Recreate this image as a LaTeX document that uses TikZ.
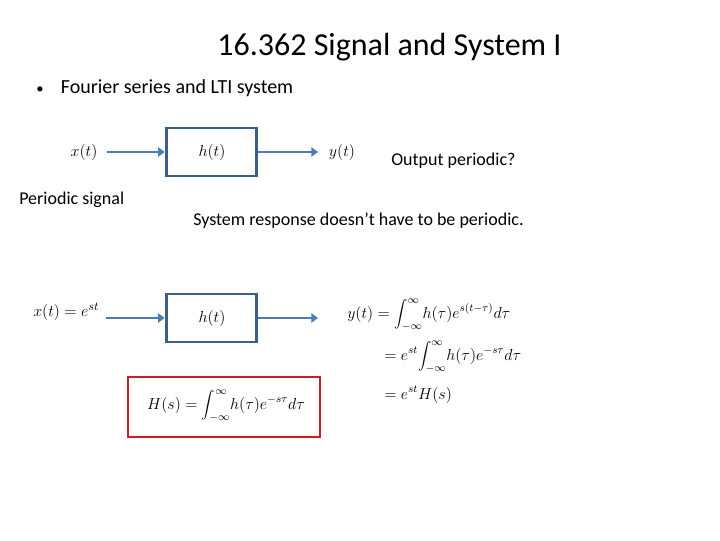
\documentclass[tikz,border=0pt]{standalone}
\usepackage{fontspec}
\setmainfont{Carlito}
\usetikzlibrary{arrows.meta}
\definecolor{arrblue}{RGB}{74,126,187}
\definecolor{boxblue}{RGB}{60,95,135}
\definecolor{redbox}{RGB}{204,30,35}
\tikzset{
  flow/.style={arrblue,line width=2.2pt,-{Triangle[length=5pt,width=7pt]}},
  sysbox/.style={draw=boxblue,line width=2.2pt,minimum width=68pt,minimum height=36pt,inner sep=0pt},
  mathlbl/.style={font=\fontsize{12.5}{15}\selectfont,inner sep=0pt},
  eqn/.style={font=\fontsize{12}{15}\selectfont,inner sep=0pt},
  txt/.style={font=\fontsize{13.5}{16}\selectfont,inner sep=0pt}
}
\begin{document}
\begin{tikzpicture}[x=0.75pt,y=-0.75pt]
\useasboundingbox (0,0) rectangle (720,540);
\node[font=\fontsize{24}{28}\selectfont,inner sep=0pt] (title) at (389.5,47) {16.362 Signal and System I};
\node[font=\fontsize{15}{18}\selectfont,inner sep=0pt,anchor=west] (bul) at (36,88) {{\fontsize{11}{12}\selectfont•}\hspace{13pt}Fourier series and LTI system};
% top diagram
\node[mathlbl] (x1) at (84,152) {$x(t)$};
\node[sysbox] (h1) at (211.5,152) {};
\node[mathlbl] (h1l) at (212,152) {$h(t)$};
\node[mathlbl] (y1) at (342,152) {$y(t)$};
\coordinate (a1s) at (107,152);
\coordinate (a1e) at (318,152);
\draw[flow] (a1s) -- (h1.west);
\draw[flow] (h1.east) -- (a1e);
\node[txt,anchor=west] (outp) at (391,161) {Output periodic?};
\node[txt,anchor=west] (pers) at (19,200) {Periodic signal};
\node[txt,anchor=west] (resp) at (193,221) {System response doesn’t have to be periodic.};
% bottom diagram
\node[mathlbl,anchor=west] (x2) at (33,312) {$x(t)=e^{st}$};
\node[sysbox] (h2) at (211.5,318) {};
\node[mathlbl] (h2l) at (212,318) {$h(t)$};
\coordinate (a2s) at (106,318);
\coordinate (a2e) at (318,318);
\draw[flow] (a2s) -- (h2.west);
\draw[flow] (h2.east) -- (a2e);
\node[eqn,anchor=west] (eq1) at (347,315) {$\displaystyle y(t)=\int_{-\infty}^{\infty}\! h(\tau)e^{s(t-\tau)}d\tau$};
\node[eqn,anchor=west,font=\fontsize{11.5}{14}\selectfont] (eq2) at (384,357) {$\displaystyle =e^{st}\!\int_{-\infty}^{\infty}\! h(\tau)e^{-s\tau}d\tau$};
\node[eqn,anchor=west] (eq3) at (384,395) {$\displaystyle =e^{st}H(s)$};
\node[draw=redbox,line width=2.2pt,minimum width=144pt,minimum height=45pt,inner sep=0pt] (rb) at (224,407) {};
\node[eqn,font=\fontsize{11.5}{14}\selectfont] (hs) at (226,406) {$\displaystyle H(s)=\int_{-\infty}^{\infty}\! h(\tau)e^{-s\tau}d\tau$};
\end{tikzpicture}
\end{document}
